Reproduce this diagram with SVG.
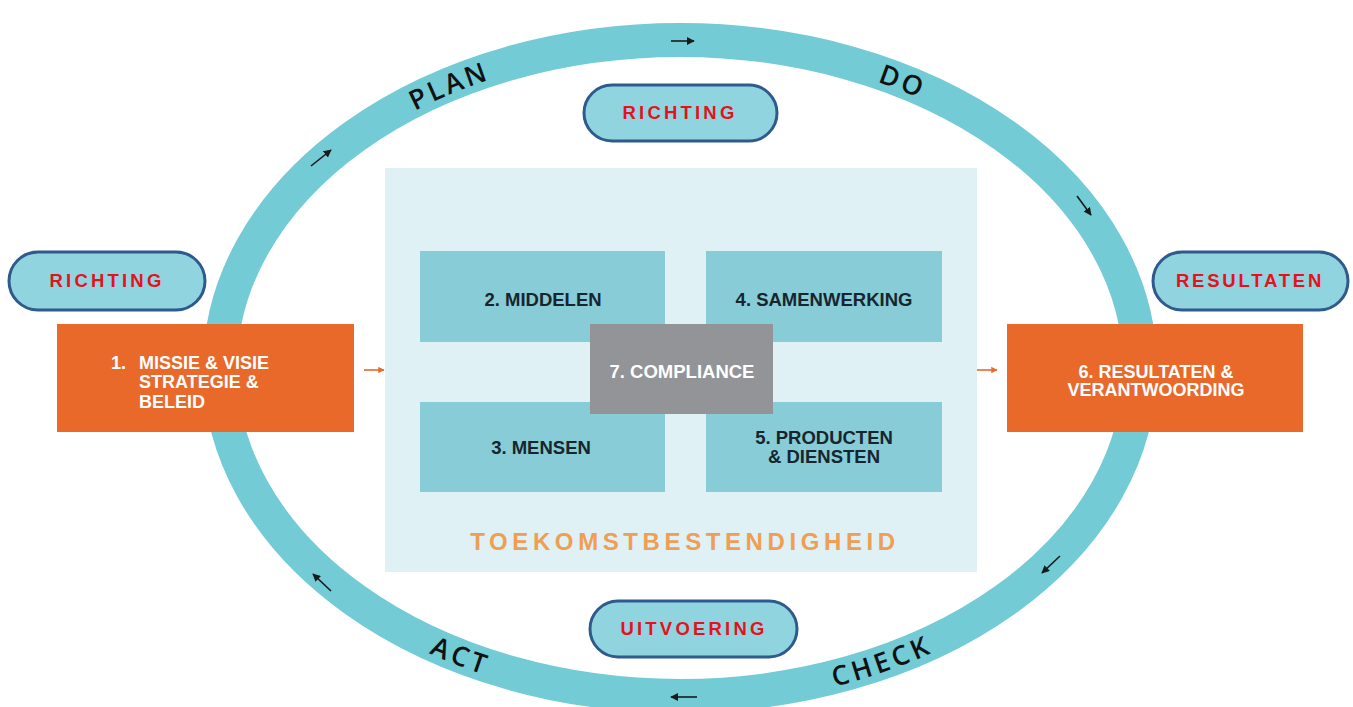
<svg xmlns="http://www.w3.org/2000/svg" xmlns:xlink="http://www.w3.org/1999/xlink" width="1353" height="707" viewBox="0 0 1353 707">
<style>
.ring{fill:none;stroke:#72CBD5;stroke-width:34}
.pill{fill:#8FD4DF;stroke:#2F5B8C;stroke-width:3}
.pilltxt{font-family:"Liberation Sans",Arial,sans-serif;font-weight:bold;font-size:18.5px;fill:#E2131C;text-anchor:middle}
.orange{fill:#E8692A}
.otxt{font-family:"Liberation Sans",Arial,sans-serif;font-weight:bold;font-size:18px;fill:#FFFFFF}
.inner{fill:#87CCD6}
.itxt{font-family:"Liberation Sans",Arial,sans-serif;font-weight:bold;font-size:18.5px;fill:#17262E;text-anchor:middle}
.ring-txt{font-family:"Open Sans","Liberation Sans",sans-serif;font-weight:600;font-size:27px;fill:#111111;letter-spacing:3.5px}
.arr{stroke:#1A1A1A;stroke-width:1.6;fill:none}
.oarr{stroke:#E8692A;stroke-width:1.6;fill:none}
</style>
<defs>
<marker id="ah" viewBox="0 0 10 10" refX="9" refY="5" markerWidth="5" markerHeight="5" orient="auto" markerUnits="strokeWidth">
<path d="M0,0 L10,5 L0,10 z" fill="#1A1A1A"/>
</marker>
<marker id="oah" viewBox="0 0 10 10" refX="9" refY="5" markerWidth="4" markerHeight="4" orient="auto" markerUnits="strokeWidth">
<path d="M0,0 L10,5 L0,10 z" fill="#E8692A"/>
</marker>
<path id="topArc" d="M220,368 A460,328 0 0 1 1140,368"/>
<path id="botArc" d="M220,368 A460,328 0 0 0 1140,368"/>
</defs>
<rect width="1353" height="707" fill="#FFFFFF"/>
<g id="cycle">
<ellipse class="ring" cx="680" cy="368" rx="460" ry="328"/>
<text class="ring-txt" dy="9.5"><textPath href="#topArc" startOffset="31%" text-anchor="middle">PLAN</textPath></text>
<text class="ring-txt" dy="9.5"><textPath href="#topArc" startOffset="68.3%" text-anchor="middle">DO</textPath></text>
<text class="ring-txt" dy="9.5"><textPath href="#botArc" startOffset="32%" text-anchor="middle">ACT</textPath></text>
<text class="ring-txt" dy="9.5"><textPath href="#botArc" startOffset="66.5%" text-anchor="middle">CHECK</textPath></text>
</g>
<g id="panel">
<rect x="385" y="168" width="592" height="404" fill="#DFF1F4"/>
<text x="685" y="550" font-family="'Liberation Sans',Arial,sans-serif" font-weight="bold" font-size="24" fill="#EF9E55" text-anchor="middle" letter-spacing="4.6">TOEKOMSTBESTENDIGHEID</text>
</g>
<g id="middelen">
<rect class="inner" x="420" y="251" width="245" height="91"/>
<text class="itxt" x="543" y="306">2. MIDDELEN</text>
</g>
<g id="samenwerking">
<rect class="inner" x="706" y="251" width="236" height="91"/>
<text class="itxt" x="824" y="306">4. SAMENWERKING</text>
</g>
<g id="mensen">
<rect class="inner" x="420" y="402" width="245" height="90"/>
<text class="itxt" x="541" y="454">3. MENSEN</text>
</g>
<g id="producten">
<rect class="inner" x="706" y="402" width="236" height="90"/>
<text class="itxt" x="824" y="444">5. PRODUCTEN</text>
<text class="itxt" x="824" y="463">&amp; DIENSTEN</text>
</g>
<g id="compliance">
<rect x="590" y="324" width="183" height="90" fill="#929497"/>
<text class="itxt" x="682" y="378" style="fill:#FFFFFF">7. COMPLIANCE</text>
</g>
<g id="richting-left">
<rect class="pill" x="9" y="252" width="196" height="58" rx="29"/>
<text class="pilltxt" x="107" y="287" letter-spacing="3.2">RICHTING</text>
</g>
<g id="richting-top">
<rect class="pill" x="584" y="85" width="193" height="56" rx="28"/>
<text class="pilltxt" x="680" y="119" letter-spacing="3.2">RICHTING</text>
</g>
<g id="resultaten-pill">
<rect class="pill" x="1153" y="252" width="195" height="58" rx="29"/>
<text class="pilltxt" x="1250" y="287" letter-spacing="2.8">RESULTATEN</text>
</g>
<g id="uitvoering">
<rect class="pill" x="590" y="601" width="207" height="56" rx="28"/>
<text class="pilltxt" x="694" y="635" letter-spacing="3.2">UITVOERING</text>
</g>
<g id="missie">
<rect class="orange" x="57" y="324" width="297" height="108"/>
<text class="otxt" x="111" y="369">1.</text>
<text class="otxt" x="139" y="369">MISSIE &amp; VISIE</text>
<text class="otxt" x="139" y="388">STRATEGIE &amp;</text>
<text class="otxt" x="139" y="408">BELEID</text>
</g>
<g id="resultaten">
<rect class="orange" x="1007" y="324" width="296" height="108"/>
<text class="otxt" x="1156" y="378" text-anchor="middle">6. RESULTATEN &amp;</text>
<text class="otxt" x="1156" y="396" text-anchor="middle">VERANTWOORDING</text>
</g>
<g id="connectors">
<line class="arr" x1="671" y1="41" x2="694" y2="41" marker-end="url(#ah)"/>
<line class="arr" x1="311" y1="166" x2="331" y2="150" marker-end="url(#ah)"/>
<line class="arr" x1="1077" y1="196" x2="1091" y2="215" marker-end="url(#ah)"/>
<line class="arr" x1="1060" y1="556" x2="1042" y2="573" marker-end="url(#ah)"/>
<line class="arr" x1="697" y1="697" x2="671" y2="697" marker-end="url(#ah)"/>
<line class="arr" x1="331" y1="591" x2="313" y2="574" marker-end="url(#ah)"/>
<line class="oarr" x1="364" y1="370" x2="384" y2="370" marker-end="url(#oah)"/>
<line class="oarr" x1="977" y1="370" x2="997" y2="370" marker-end="url(#oah)"/>
</g>
</svg>
